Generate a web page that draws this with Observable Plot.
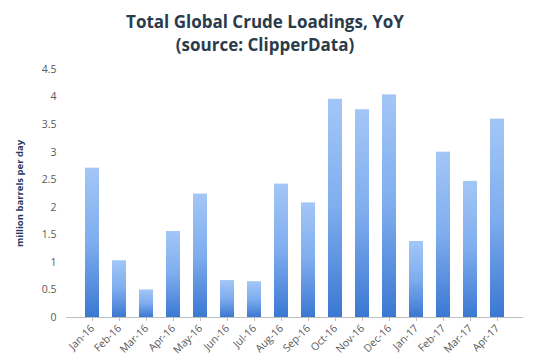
<!DOCTYPE html>
<html>
<head>
<meta charset="utf-8">
<script src="https://cdn.jsdelivr.net/npm/d3@7"></script>
<script src="https://cdn.jsdelivr.net/npm/@observablehq/plot@0.6"></script>
<style>
  html, body { margin: 0; padding: 0; background: #fff; }
  #wrap { width: 546px; height: 359px; position: relative; overflow: hidden; }
  #title { position: absolute; left: 0; top: 10px; width: 530px; text-align: center;
    font-family: "Open Sans", sans-serif; font-weight: 700; font-size: 17px; line-height: 23px; color: #2a3b4c; }
  #chart { position: absolute; left: 0; top: 55px; }
</style>
</head>
<body>
<div id="wrap">
  <div id="title">Total Global Crude Loadings, YoY<br>(source: ClipperData)</div>
  <div id="chart"></div>
</div>
<script>
const months = ["Jan-16","Feb-16","Mar-16","Apr-16","May-16","Jun-16","Jul-16","Aug-16","Sep-16","Oct-16","Nov-16","Dec-16","Jan-17","Feb-17","Mar-17","Apr-17"];
const values = [2.71, 1.03, 0.50, 1.56, 2.24, 0.67, 0.65, 2.42, 2.08, 3.96, 3.77, 4.04, 1.38, 3.00, 2.47, 3.60];
const yTicks = [0, 0.5, 1, 1.5, 2, 2.5, 3, 3.5, 4, 4.5];
const yLabel = "million barrels per day";

const data = months.map((m, i) => ({month: m, value: values[i]}));

const plot = Plot.plot({
  width: 546,
  height: 304,
  marginTop: 14,
  marginBottom: 42,
  marginLeft: 66,
  marginRight: 23,
  style: {fontFamily: "'Open Sans', sans-serif", fontSize: "10px", color: "#595959", background: "transparent"},
  x: {type: "band", domain: months, padding: 0.49, label: null},
  y: {domain: [0, 4.5], label: null},
  marks: [
    () => {
      const ns = "http://www.w3.org/2000/svg";
      const defs = document.createElementNS(ns, "defs");
      defs.innerHTML = `<linearGradient id="barGrad" x1="0" y1="0" x2="0" y2="1">
        <stop offset="0" stop-color="#a3c6f7"/>
        <stop offset="0.5" stop-color="#7fadee"/>
        <stop offset="1" stop-color="#3b78d2"/>
      </linearGradient>`;
      return defs;
    },
    Plot.gridY(yTicks, {stroke: "#d9d9d9", strokeOpacity: 1, x1: 64, x2: 525}),
    Plot.axisY(yTicks, {tickSize: 0, tickPadding: 10, fontSize: 10.5, fill: "#595959", label: null,
      tickFormat: d => String(d)}),
    Plot.barY(data, {x: "month", y: "value", fill: "url(#barGrad)"}),
    Plot.ruleY([0], {stroke: "#bfbfbf"}),
    Plot.axisX({tickSize: 4, stroke: "#bfbfbf", tickRotate: -45, tickPadding: 5, fontSize: 10.5, fill: "#595959", label: null, textAnchor: "end"}),
    Plot.text([yLabel], {frameAnchor: "left", dx: -47, rotate: -90, textAnchor: "middle", fontWeight: "bold", fontSize: 9.5, fill: "#1f3864"})
  ]
});
document.getElementById("chart").appendChild(plot);
</script>
</body>
</html>
